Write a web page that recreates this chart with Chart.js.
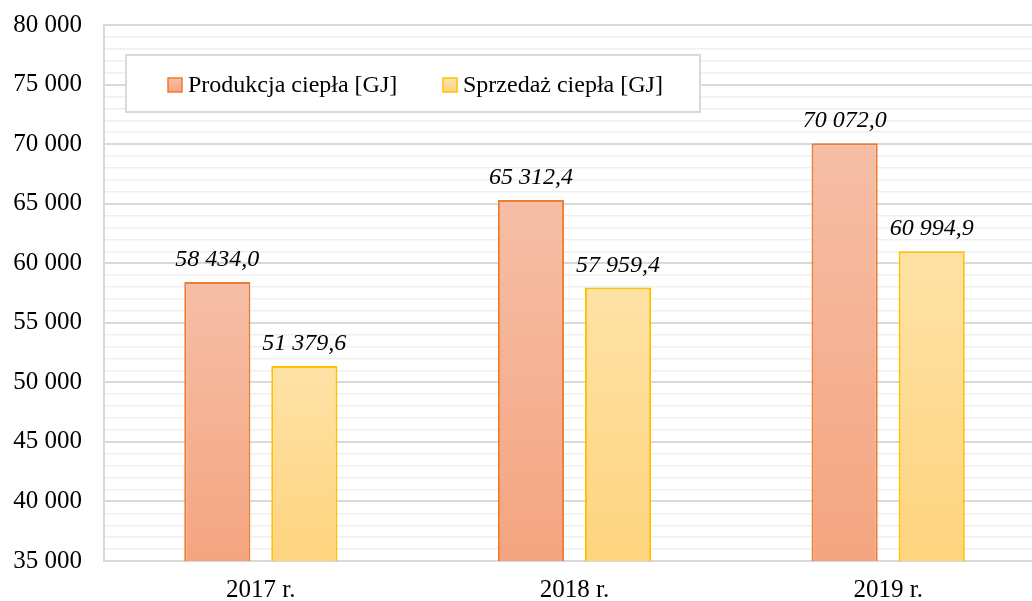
<!DOCTYPE html>
<html>
<head>
<meta charset="utf-8">
<script src="https://cdn.jsdelivr.net/npm/chart.js@4.4.0/dist/chart.umd.min.js"></script>
<style>
  html, body { margin: 0; padding: 0; background: #fff; overflow: hidden; }
  #wrap { width: 1046px; height: 601px; position: relative; }
</style>
</head>
<body>
<div id="wrap"><canvas id="c" width="1046" height="601"></canvas></div>
<script>
const categories = ['2017 r.', '2018 r.', '2019 r.'];
const seriesNames = ['Produkcja ciepła [GJ]', 'Sprzedaż ciepła [GJ]'];
const produkcja = [58434.0, 65312.4, 70072.0];
const sprzedaz = [51379.6, 57959.4, 60994.9];
const yMin = 35000, yMax = 80000, yMajorStep = 5000, yMinorStep = 1000;

const FONT = '"Liberation Serif", "Times New Roman", serif';
const styles = [
  { top: '#f6bea7', bottom: '#f4a580', border: '#ed7d31' },
  { top: '#fee2a6', bottom: '#fed47f', border: '#ffc000' }
];

function fmt(v) {
  const s = v.toFixed(1).split('.');
  return s[0].replace(/\B(?=(\d{3})+(?!\d))/g, ' ') + ',' + s[1];
}

function barGradient(ctx, di) {
  const chart = ctx.chart;
  const st = styles[di];
  if (!chart.chartArea || ctx.type !== 'data') return st.bottom;
  const y = chart.scales.y;
  const v = ctx.raw;
  const yTop = y.getPixelForValue(v);
  const yBot = y.getPixelForValue(yMin);
  const g = chart.ctx.createLinearGradient(0, yTop, 0, yBot);
  g.addColorStop(0, st.top);
  g.addColorStop(1, st.bottom);
  return g;
}

const dataLabels = {
  id: 'dataLabels',
  afterDatasetsDraw(chart) {
    const c = chart.ctx;
    c.save();
    c.font = 'italic 24px ' + FONT;
    c.fillStyle = '#000';
    c.textAlign = 'center';
    c.textBaseline = 'alphabetic';
    chart.data.datasets.forEach((ds, i) => {
      chart.getDatasetMeta(i).data.forEach((bar, j) => {
        c.fillText(fmt(ds.data[j]), bar.x, bar.y - 16);
      });
    });
    c.restore();
  }
};

const boxLegend = {
  id: 'boxLegend',
  afterDatasetsDraw(chart) {
    const c = chart.ctx;
    c.save();
    const bx = 126, by = 55, bw = 574, bh = 57;
    c.fillStyle = '#fff';
    c.fillRect(bx, by, bw, bh);
    c.strokeStyle = '#d9d9d9';
    c.lineWidth = 2;
    c.strokeRect(bx, by, bw, bh);
    const itemX = [168, 443];
    c.font = '24px ' + FONT;
    c.textBaseline = 'middle';
    c.textAlign = 'left';
    chart.data.datasets.forEach((ds, i) => {
      const st = styles[i];
      const x = itemX[i], y = 78;
      const g = c.createLinearGradient(0, y, 0, y + 14);
      g.addColorStop(0, st.top); g.addColorStop(1, st.bottom);
      c.fillStyle = g;
      c.fillRect(x, y, 14, 14);
      c.strokeStyle = st.border;
      c.lineWidth = 1.5;
      c.strokeRect(x, y, 14, 14);
      c.fillStyle = '#000';
      c.fillText(ds.label, x + 20, 86);
    });
    c.restore();
  }
};

new Chart(document.getElementById('c'), {
  type: 'bar',
  data: {
    labels: categories,
    datasets: [
      { label: seriesNames[0], data: produkcja,
        backgroundColor: ctx => barGradient(ctx, 0), borderColor: styles[0].border,
        borderWidth: 2, borderSkipped: 'bottom',
        categoryPercentage: 0.555, barPercentage: 0.76 },
      { label: seriesNames[1], data: sprzedaz,
        backgroundColor: ctx => barGradient(ctx, 1), borderColor: styles[1].border,
        borderWidth: 2, borderSkipped: 'bottom',
        categoryPercentage: 0.555, barPercentage: 0.76 }
    ]
  },
  options: {
    responsive: false,
    animation: false,
    devicePixelRatio: 1,
    layout: { padding: { top: 25, right: 1, left: 0, bottom: 0 } },
    plugins: { legend: { display: false }, tooltip: { enabled: false } },
    scales: {
      x: {
        grid: { display: false },
        border: { display: true, color: '#d9d9d9', width: 2 },
        ticks: { color: '#000', font: { family: FONT, size: 25 }, padding: 6 },
        afterFit(s) { s.height = 40; s.paddingLeft = 0; s.paddingRight = 0; }
      },
      y: {
        min: yMin, max: yMax,
        border: { display: true, color: '#d9d9d9', width: 2 },
        grid: {
          drawTicks: false,
          color: ctx => (ctx.tick && ctx.tick.value % yMajorStep === 0) ? '#d9d9d9' : '#efefef',
          lineWidth: ctx => (ctx.tick && ctx.tick.value % yMajorStep === 0) ? 2 : 1.5
        },
        ticks: {
          stepSize: yMinorStep, autoSkip: false, padding: 22,
          color: '#000', font: { family: FONT, size: 25 },
          callback: v => v % yMajorStep === 0 ? String(v).replace(/\B(?=(\d{3})+(?!\d))/g, ' ') : ''
        },
        afterFit(s) { s.width = 104; s.paddingTop = 0; s.paddingBottom = 0; }
      }
    }
  },
  plugins: [dataLabels, boxLegend]
});
</script>
</body>
</html>
